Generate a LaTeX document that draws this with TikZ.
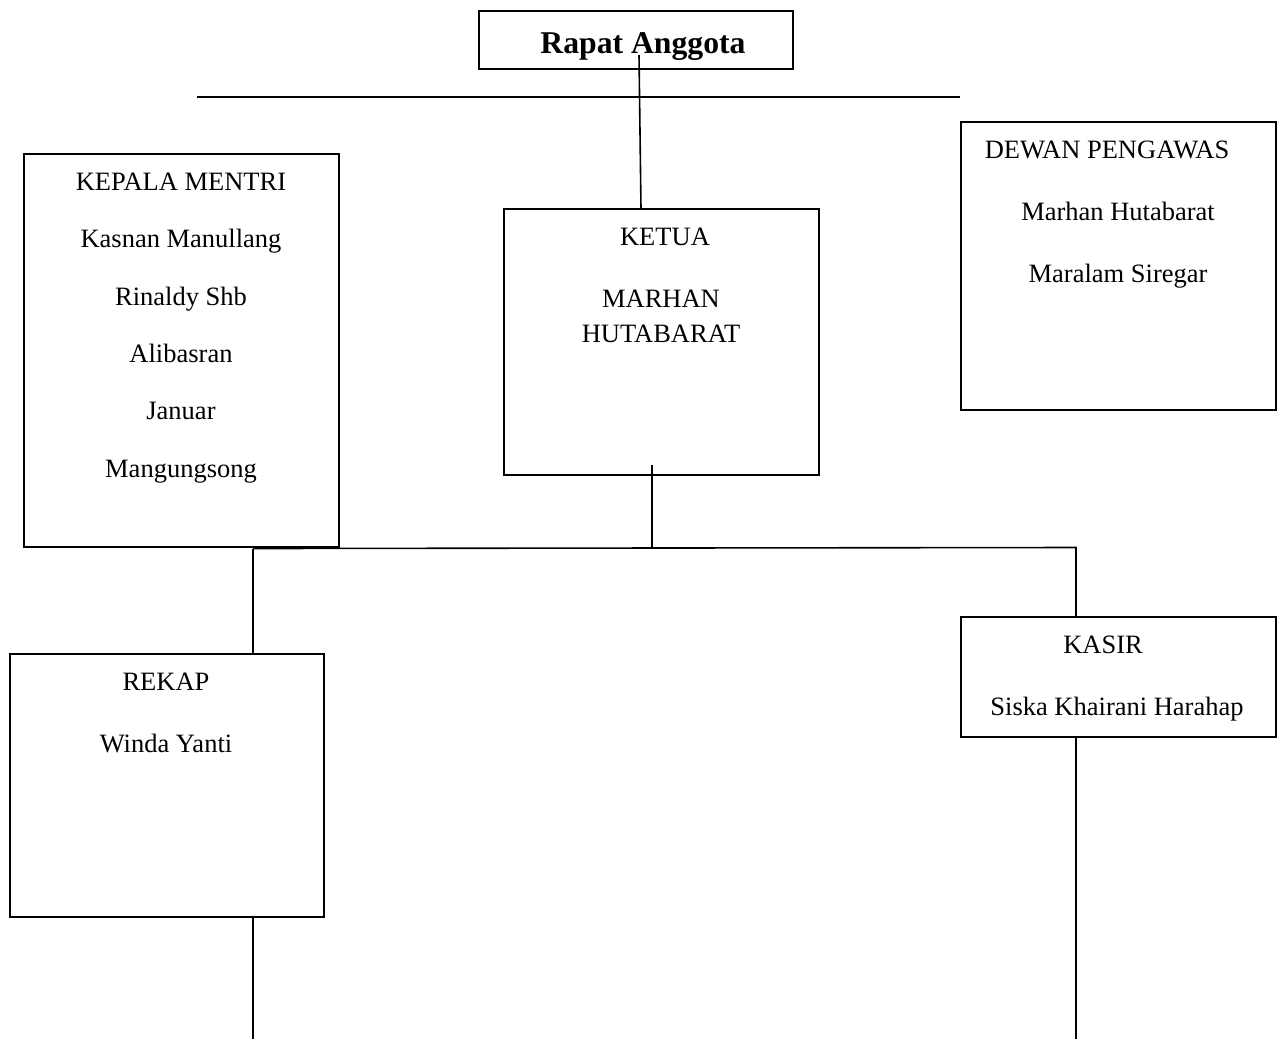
\documentclass[tikz,border=0pt]{standalone}
\usepackage{fontspec}
\setmainfont{Liberation Serif}
\begin{document}
\begin{tikzpicture}[x=1pt,y=-1pt,
  box/.style={draw,line width=1.6pt},
  ln/.style={line width=1.6pt},
  txt/.style={inner sep=0pt,anchor=base,font=\fontsize{26.5}{30}\selectfont},
  ttl/.style={inner sep=0pt,anchor=base,font=\fontsize{31.7}{36}\selectfont\bfseries}]
\useasboundingbox (0,0) rectangle (1281,1039);
% boxes
\draw[box] (479,11) rectangle (793,69);
\coordinate (rapatIn) at (639,55);
\node[ttl] (rapat) at (643,53) {Rapat Anggota};
\coordinate (hl) at (197,97);
\coordinate (hr) at (960,97);
\draw[ln] (hl) -- (hr);

\draw[box] (24,154) rectangle (339,547);
\node[txt] (km1) at (181,190) {KEPALA MENTRI};
\node[txt] (km2) at (181,247) {Kasnan Manullang};
\node[txt] (km3) at (181,305) {Rinaldy Shb};
\node[txt] (km4) at (181,362) {Alibasran};
\node[txt] (km5) at (181,419) {Januar};
\node[txt] (km6) at (181,477) {Mangungsong};

\draw[box] (504,209) rectangle (819,475);
\coordinate (ketuaTop) at (641,209);
\coordinate (ketuaIn) at (652,465);
\node[txt] (k1) at (665,245) {KETUA};
\node[txt] (k2) at (661,307) {MARHAN};
\node[txt] (k3) at (661,342) {HUTABARAT};

\draw[box] (961,122) rectangle (1276,410);
\node[txt] (d1) at (1107,158) {DEWAN PENGAWAS};
\node[txt] (d2) at (1118,220) {Marhan Hutabarat};
\node[txt] (d3) at (1118,282) {Maralam Siregar};

\draw[box] (10,654) rectangle (324,917);
\coordinate (rekapTop) at (253,654);
\coordinate (rekapBot) at (253,917);
\coordinate (rekapEnd) at (253,1039);
\node[txt] (r1) at (166,690) {REKAP};
\node[txt] (r2) at (166,752) {Winda Yanti};

\draw[box] (961,617) rectangle (1276,737);
\coordinate (kasirTop) at (1076,617);
\coordinate (kasirBot) at (1076,737);
\coordinate (kasirEnd) at (1076,1039);
\node[txt] (s1) at (1103,653) {KASIR};
\node[txt] (s2) at (1117,715) {Siska Khairani Harahap};

% connectors
\coordinate (bl) at (253,548.5);
\coordinate (bm) at (652,548);
\coordinate (br) at (1076,547.5);
\draw[ln] (rapatIn) -- (ketuaTop);
\draw[ln] (ketuaIn) -- (bm);
\draw[ln] (bl) -- (br) -- (kasirTop);
\draw[ln] (bl) -- (rekapTop);
\draw[ln] (rekapBot) -- (rekapEnd);
\draw[ln] (kasirBot) -- (kasirEnd);
\end{tikzpicture}
\end{document}
